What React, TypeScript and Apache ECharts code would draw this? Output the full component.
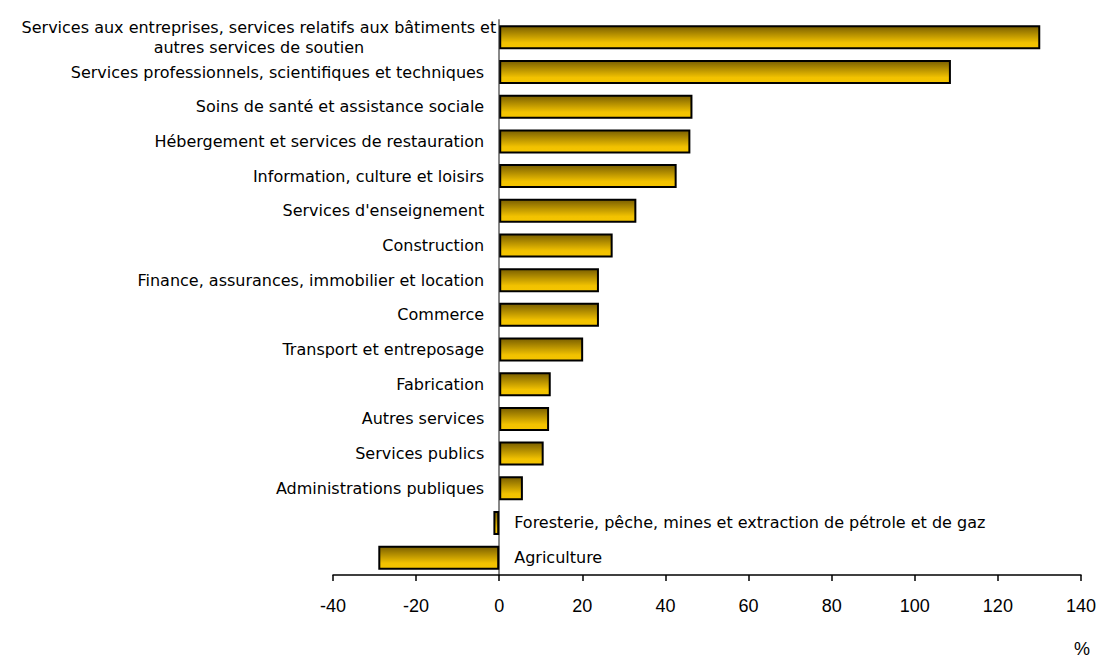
import React, { useEffect, useRef } from "react";
import * as echarts from "echarts";

const categories = [
  "Services aux entreprises, services relatifs aux bâtiments et\nautres services de soutien",
  "Services professionnels, scientifiques et techniques",
  "Soins de santé et assistance sociale",
  "Hébergement et services de restauration",
  "Information, culture et loisirs",
  "Services d'enseignement",
  "Construction",
  "Finance, assurances, immobilier et location",
  "Commerce",
  "Transport et entreposage",
  "Fabrication",
  "Autres services",
  "Services publics",
  "Administrations publiques",
  "Foresterie, pêche, mines et extraction de pétrole et de gaz",
  "Agriculture",
];

const values = [130.2, 108.7, 46.5, 46.0, 42.7, 33.0, 27.3, 24.0, 24.0, 20.2, 12.4, 12.0, 10.7, 5.7, -1.4, -29.1];

const xTicks = { min: -40, max: 140, interval: 20 };
const unitLabel = "%";

const FONT = "'Liberation Sans', Arial, sans-serif";
const LABEL_FONT = "'DejaVu Sans', sans-serif";

export default function App() {
  const ref = useRef<HTMLDivElement>(null);
  useEffect(() => {
    if (!ref.current) return;
    const chart = echarts.init(ref.current, null, { renderer: "svg" });
    const gradient = new echarts.graphic.LinearGradient(0, 0, 0, 1, [
      { offset: 0, color: "#7a5f00" },
      { offset: 0.75, color: "#f2c200" },
      { offset: 1, color: "#f5c500" },
    ]);
    const data = values.map((v, i) => {
      const name = categories[i];
      const lines = name.split("\n");
      const multi = lines.length > 1;
      return {
        value: v,
        name,
        label: {
          show: true,
          position: v >= 0 ? "left" : "right",
          distance: multi ? 3 : 15,
          formatter: multi ? lines.map((l) => `{c|${l}}`).join("\n") : name,
          rich: multi
            ? { c: { align: "center", fontSize: 16, fontFamily: LABEL_FONT, color: "#000", lineHeight: 20 } }
            : undefined,
        },
      };
    });
    chart.setOption({
      animation: false,
      grid: { left: 325, right: 13, top: 12, bottom: 84, containLabel: false },
      xAxis: {
        type: "value",
        min: xTicks.min,
        max: xTicks.max,
        interval: xTicks.interval,
        axisLine: { show: true, lineStyle: { color: "#000", width: 1.5 } },
        axisTick: { show: true, length: 6, lineStyle: { color: "#000", width: 1.5 } },
        axisLabel: { color: "#000", fontSize: 18, fontFamily: FONT, margin: 22 },
        splitLine: { show: false },
      },
      yAxis: {
        type: "category",
        data: categories,
        inverse: true,
        axisLine: { show: true, onZero: true, lineStyle: { color: "#888", width: 2 } },
        axisTick: { show: false },
        axisLabel: { show: false },
        splitLine: { show: false },
      },
      graphic: [
        {
          type: "text",
          right: 9,
          top: 632,
          style: { text: unitLabel, fontSize: 18, fontFamily: FONT, fill: "#000" },
        },
      ],
      series: [
        {
          type: "bar",
          data,
          barWidth: 24,
          itemStyle: { color: gradient, borderColor: "#000", borderWidth: 2 },
          label: { color: "#000", fontSize: 16, fontFamily: LABEL_FONT },
        },
      ],
    });
    return () => chart.dispose();
  }, []);
  return <div ref={ref} style={{ width: 1091, height: 651 }} />;
}
